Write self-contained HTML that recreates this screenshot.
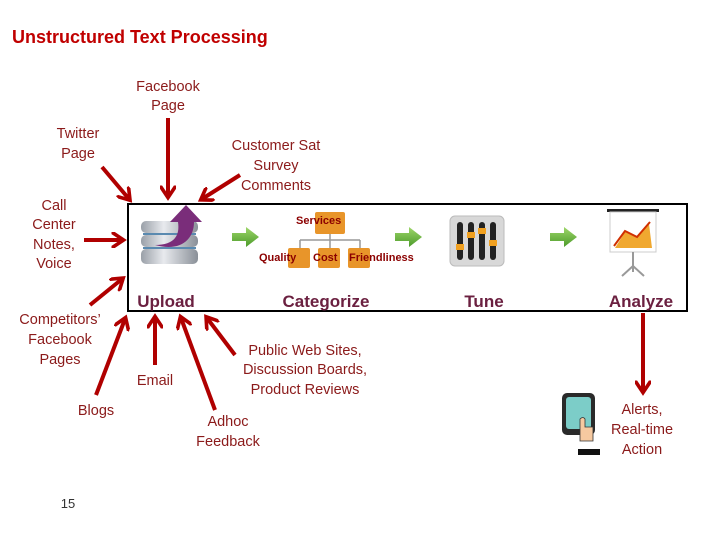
<!DOCTYPE html>
<html><head><meta charset="utf-8"><style>
body{margin:0;background:#fff;}
svg{display:block;}
text{font-family:"Liberation Sans",sans-serif;}
.l{fill:#8b1a1a;font-size:14.5px;text-anchor:middle;}
.c{fill:#6b2040;font-size:17px;font-weight:bold;text-anchor:middle;}
</style></head><body>
<svg width="720" height="540" viewBox="0 0 720 540">
<defs>
<marker id="a" markerWidth="4" markerHeight="4" refX="2.6" refY="2" orient="auto" markerUnits="strokeWidth"><path d="M0,0 L3,2 L0,4" fill="none" stroke="#b00000" stroke-width="0.9"/></marker>
<linearGradient id="cyl" x1="0" x2="1"><stop offset="0" stop-color="#9aa0a8"/><stop offset=".4" stop-color="#e8eaee"/><stop offset="1" stop-color="#8a9098"/></linearGradient>
<linearGradient id="g" x1="0" y1="0" x2="0" y2="1"><stop offset="0" stop-color="#9ed66a"/><stop offset="1" stop-color="#4c9a2a"/></linearGradient>
</defs>
<text x="12" y="43" font-size="18" font-weight="bold" fill="#c00000" style="font-family:'Liberation Sans',sans-serif">Unstructured Text Processing</text>
<g class="l">
<text x="168" y="91">Facebook</text><text x="168" y="110">Page</text>
<text x="78" y="138">Twitter</text><text x="78" y="158">Page</text>
<text x="276" y="150">Customer Sat</text><text x="276" y="170">Survey</text><text x="276" y="190">Comments</text>
<text x="54" y="210">Call</text><text x="54" y="229">Center</text><text x="54" y="249">Notes,</text><text x="54" y="268">Voice</text>
<text x="60" y="324">Competitors’</text><text x="60" y="344">Facebook</text><text x="60" y="364">Pages</text>
<text x="155" y="385">Email</text>
<text x="96" y="415">Blogs</text>
<text x="305" y="355">Public Web Sites,</text><text x="305" y="374">Discussion Boards,</text><text x="305" y="394">Product Reviews</text>
<text x="228" y="426">Adhoc</text><text x="228" y="446">Feedback</text>
<text x="642" y="414">Alerts,</text><text x="642" y="434">Real-time</text><text x="642" y="454">Action</text>
<text x="68" y="508" fill="#333" font-size="13">15</text>
</g>
<g stroke="#b00000" stroke-width="4" fill="none" marker-end="url(#a)">
<line x1="102" y1="167" x2="129" y2="199"/>
<line x1="168" y1="118" x2="168" y2="196"/>
<line x1="240" y1="175" x2="202" y2="199"/>
<line x1="84" y1="240" x2="122" y2="240"/>
<line x1="90" y1="305" x2="122" y2="279"/>
<line x1="96" y1="395" x2="125" y2="319"/>
<line x1="155" y1="365" x2="155" y2="318"/>
<line x1="215" y1="410" x2="181" y2="318"/>
<line x1="235" y1="355" x2="207" y2="318"/>
<line x1="643" y1="313" x2="643" y2="391"/>
</g>
<rect x="128" y="204" width="559" height="107" fill="none" stroke="#000" stroke-width="2"/>
<!-- upload -->
<rect x="141" y="221" width="57" height="12" rx="5" fill="url(#cyl)"/>
<rect x="141" y="235" width="57" height="12" rx="5" fill="url(#cyl)"/>
<rect x="141" y="249" width="57" height="15" rx="5" fill="url(#cyl)"/>
<line x1="143" y1="234" x2="196" y2="234" stroke="#5a8ab0" stroke-width="2"/>
<line x1="143" y1="248" x2="196" y2="248" stroke="#5a8ab0" stroke-width="2"/>
<path d="M155,245 C175,245 180,235 178,222 L170,222 L186,205 L202,222 L194,222 C194,240 180,252 155,245Z" fill="#7a2d7a"/>
<text class="c" x="166" y="307">Upload</text>
<!-- green arrows -->
<g fill="url(#g)">
<path d="M232,233 h14 v-6 l13,10 l-13,10 v-6 h-14z"/>
<path d="M395,233 h14 v-6 l13,10 l-13,10 v-6 h-14z"/>
<path d="M550,233 h14 v-6 l13,10 l-13,10 v-6 h-14z"/>
</g>
<!-- categorize -->
<g stroke="#999" stroke-width="1.5" fill="none"><path d="M330,232 v8 M300,240 h60 M300,240 v8 M330,240 v8 M360,240 v8"/></g>
<g fill="#e8952a">
<rect x="315" y="212" width="30" height="22" rx="2"/>
<rect x="288" y="248" width="22" height="20" rx="2"/>
<rect x="318" y="248" width="22" height="20" rx="2"/>
<rect x="348" y="248" width="22" height="20" rx="2"/>
</g>
<g fill="#8b0000" font-size="11" font-weight="bold" style="font-family:'Liberation Sans',sans-serif">
<text x="296" y="224">Services</text>
<text x="259" y="261">Quality</text><text x="313" y="261">Cost</text><text x="349" y="261">Friendliness</text>
</g>
<text class="c" x="326" y="307">Categorize</text>
<!-- tune -->
<rect x="450" y="216" width="54" height="50" rx="5" fill="#d8d8d8" stroke="#bbb"/>
<g fill="#222"><rect x="457" y="222" width="6" height="38" rx="3"/><rect x="468" y="222" width="6" height="38" rx="3"/><rect x="479" y="222" width="6" height="38" rx="3"/><rect x="490" y="222" width="6" height="38" rx="3"/></g>
<g fill="#f0a020"><rect x="456" y="244" width="8" height="6"/><rect x="467" y="232" width="8" height="6"/><rect x="478" y="228" width="8" height="6"/><rect x="489" y="240" width="8" height="6"/></g>
<text class="c" x="484" y="307">Tune</text>
<!-- analyze -->
<rect x="607" y="209" width="52" height="3" fill="#222"/>
<rect x="610" y="212" width="46" height="40" fill="#fff" stroke="#ccc"/>
<path d="M615,248 L625,232 L637,238 L649,224 L652,248Z" fill="#f0a830"/>
<path d="M614,246 L625,231 L637,237 L650,222" stroke="#d03000" stroke-width="2" fill="none"/>
<path d="M633,252 V272 M633,266 L622,276 M633,266 L644,276" stroke="#999" stroke-width="2" fill="none"/>
<text class="c" x="641" y="307">Analyze</text>
<!-- phone -->
<rect x="562" y="393" width="33" height="42" rx="5" fill="#2a2a2a"/>
<rect x="566" y="397" width="25" height="32" rx="3" fill="#7ccdc8"/>
<path d="M580,432 v-13 q3,-3 5,0 v8 h8 v14 h-13z" fill="#f6c9a0" stroke="#333" stroke-width="0.8"/>
<rect x="578" y="449" width="22" height="6" fill="#111"/>
</svg>
</body></html>
